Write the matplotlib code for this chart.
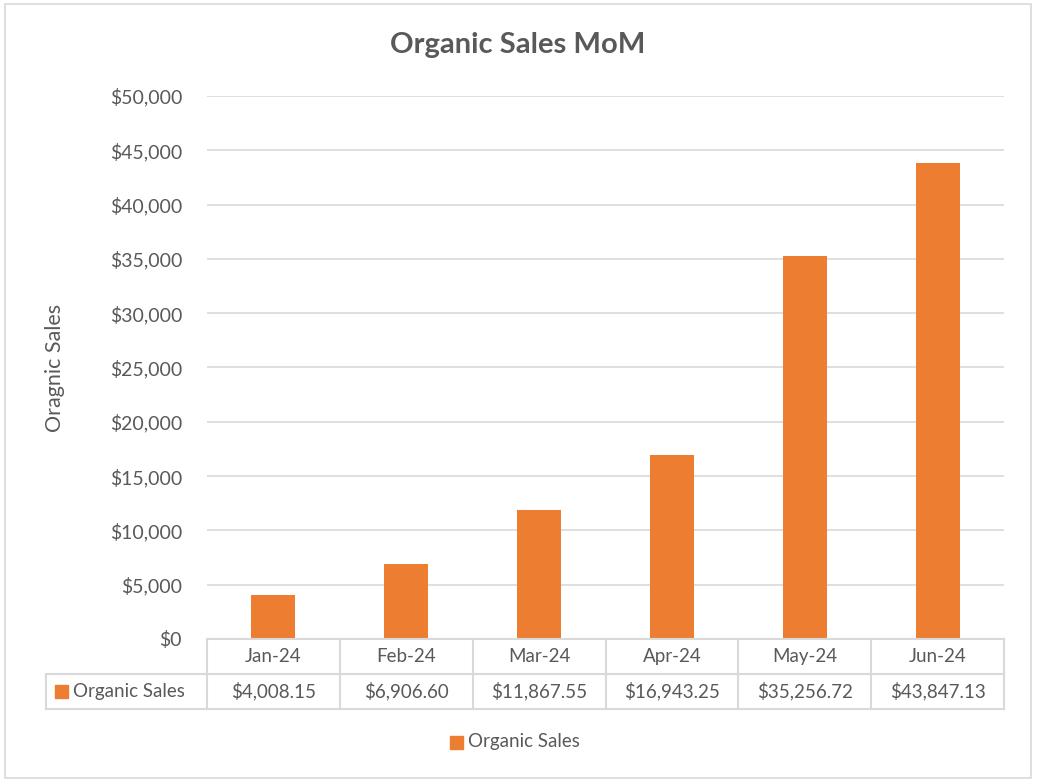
import matplotlib
matplotlib.use("Agg")
import matplotlib.pyplot as plt
from matplotlib.patches import Rectangle
from matplotlib.lines import Line2D
from matplotlib.ticker import FuncFormatter

months = ["Jan-24", "Feb-24", "Mar-24", "Apr-24", "May-24", "Jun-24"]
sales = [4008.15, 6906.60, 11867.55, 16943.25, 35256.72, 43847.13]
series_name = "Organic Sales"
title = "Organic Sales MoM"
y_label = "Oragnic Sales"

ORANGE = "#ED7D31"
TXT = "#595959"
GRID = "#D9D9D9"
plt.rcParams['font.family'] = ['Lato', 'DejaVu Sans']

W, H = 1037, 783
fig = plt.figure(figsize=(W / 100, H / 100), dpi=100)

def fx(px):
    return px / W

def fy(py):
    return 1 - py / H

# outer border
fig.patches.append(Rectangle((fx(5), fy(778)), fx(1031) - fx(5), fy(4) - fy(778),
                             transform=fig.transFigure, fill=False, edgecolor=GRID, lw=1.2))

L, R, T, B = 207, 1004, 96, 639
ax = fig.add_axes([fx(L), fy(B), fx(R) - fx(L), fy(T) - fy(B)])
x = list(range(len(months)))
ax.bar(x, sales, width=0.33, color=ORANGE, zorder=3)
ax.set_xlim(-0.5, len(months) - 0.5)
ax.set_ylim(0, 50000)
ax.set_yticks(range(0, 50001, 5000))
ax.yaxis.set_major_formatter(FuncFormatter(lambda v, p: f"${v:,.0f}"))
ax.grid(axis='y', color=GRID, lw=1.2, zorder=0)
for s in ax.spines.values():
    s.set_visible(False)
ax.set_xticks([])
ax.tick_params(axis='y', length=0, pad=18, labelsize=14, labelcolor=TXT)

fig.text(fx(518), fy(45), title, ha='center', va='center', fontsize=21,
         fontweight='bold', color=TXT)
fig.text(fx(55), fy(368), y_label, ha='center', va='center', rotation=90,
         fontsize=15.5, color=TXT)

# data table
colw = (R - L) / len(months)
row1_top, row1_bot, row2_bot = B, 674, 709
lines = [
    ((L, R), (row1_top, row1_top)),
    ((46, R), (row1_bot, row1_bot)),
    ((46, R), (row2_bot, row2_bot)),
    ((46, 46), (row1_bot, row2_bot)),
]
for i in range(len(months) + 1):
    xp = L + i * colw
    lines.append(((xp, xp), (row1_top, row2_bot)))
for (xs, ys) in lines:
    fig.add_artist(Line2D([fx(v) for v in xs], [fy(v) for v in ys],
                          transform=fig.transFigure, color=GRID, lw=1.5))

FS = 13.5
for i, (m, v) in enumerate(zip(months, sales)):
    cx = L + (i + 0.5) * colw
    fig.text(fx(cx), fy((row1_top + row1_bot) / 2), m, ha='center', va='center',
             fontsize=FS, color=TXT)
    fig.text(fx(cx), fy((row1_bot + row2_bot) / 2), f"${v:,.2f}", ha='center',
             va='center', fontsize=FS, color=TXT)

fig.patches.append(Rectangle((fx(55), fy(698)), fx(68) - fx(55), fy(685) - fy(698),
                             transform=fig.transFigure, color=ORANGE))
fig.text(fx(73), fy((row1_bot + row2_bot) / 2), series_name, ha='left', va='center',
         fontsize=FS, color=TXT)

# legend
fig.patches.append(Rectangle((fx(450), fy(749)), fx(463) - fx(450), fy(736) - fy(749),
                             transform=fig.transFigure, color=ORANGE))
fig.text(fx(468), fy(742), series_name, ha='left', va='center', fontsize=FS, color=TXT)

fig.savefig("out.png", dpi=100)
